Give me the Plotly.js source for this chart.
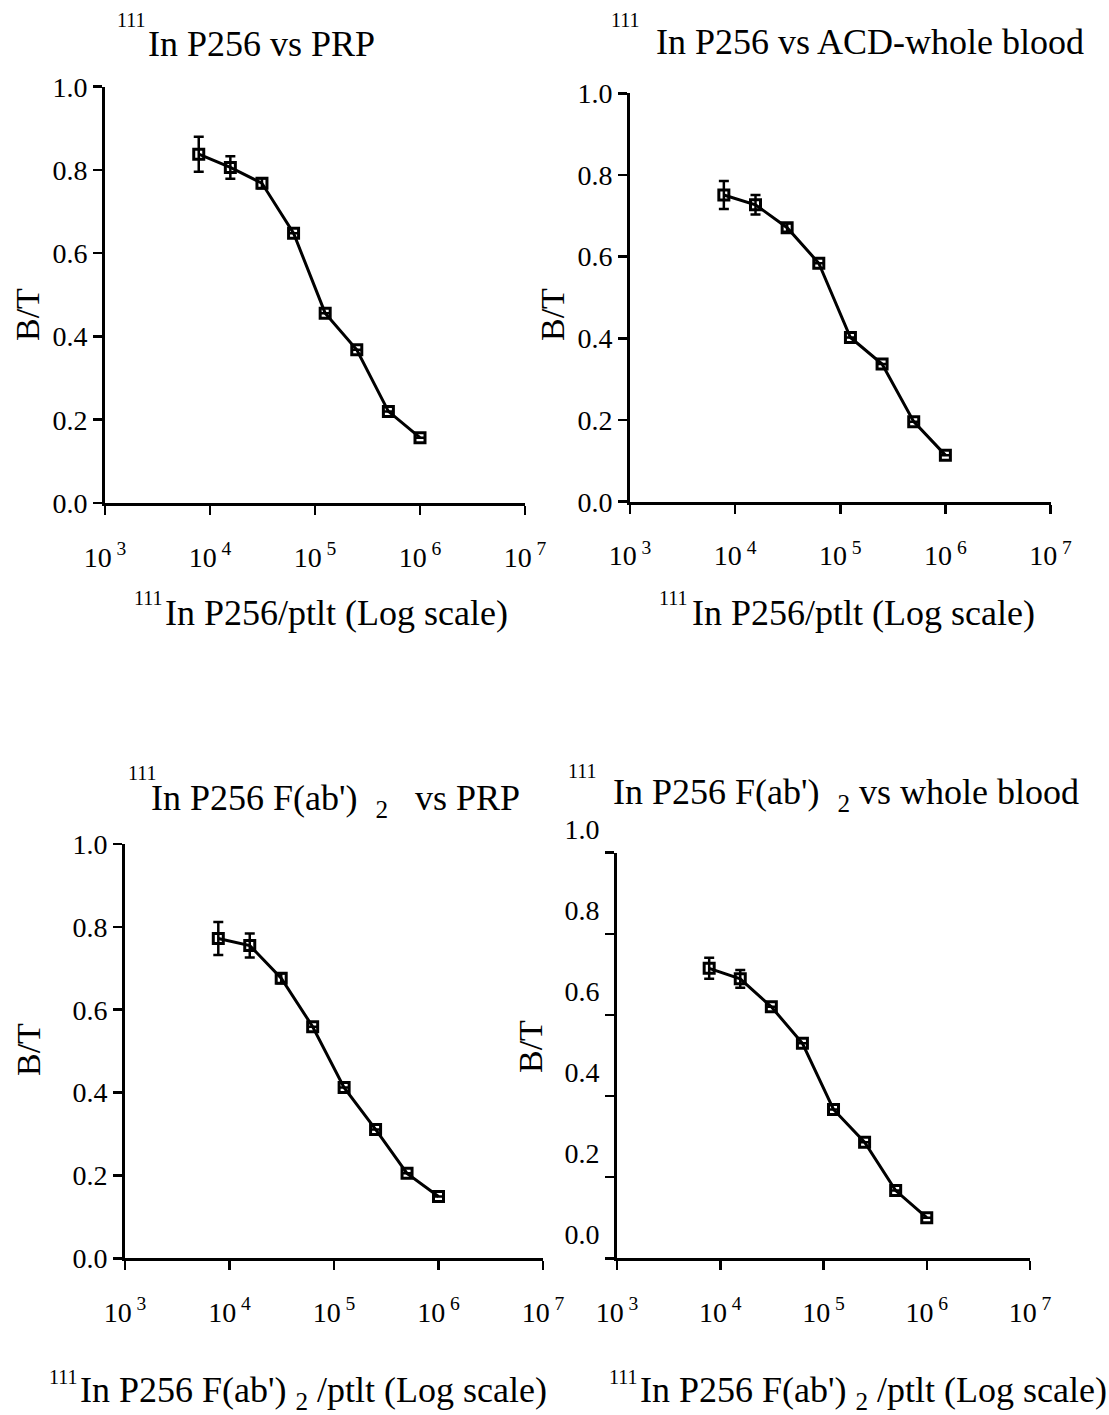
<!DOCTYPE html>
<html>
<head>
<meta charset="utf-8">
<script src="https://cdn.plot.ly/plotly-3.0.1.min.js"></script>
<style>html,body{margin:0;padding:0;background:#fff;}</style>
</head>
<body>
<div id="chart" style="width:1109px;height:1415px;"></div>
<script>
// ---- data ----
const doses = [7812.5, 15625, 31250, 62500, 125000, 250000, 500000, 1000000];
const btPRP = [0.838, 0.806, 0.768, 0.648, 0.456, 0.368, 0.220, 0.157];
const errPRP = [0.042, 0.027, 0.012, 0, 0, 0, 0, 0];
const btACD = [0.751, 0.727, 0.671, 0.584, 0.402, 0.337, 0.196, 0.114];
const errACD = [0.034, 0.024, 0.010, 0, 0, 0, 0, 0];
const btFabPRP = [0.772, 0.755, 0.676, 0.559, 0.412, 0.311, 0.205, 0.149];
const errFabPRP = [0.040, 0.029, 0.012, 0, 0, 0, 0, 0];
const btFabWB = [0.715, 0.689, 0.620, 0.530, 0.367, 0.286, 0.167, 0.100];
const errFabWB = [0.026, 0.022, 0, 0, 0, 0, 0, 0];
const xTickVals = [1e3, 1e4, 1e5, 1e6, 1e7];
const xTickText = ["10<sup>\u00a03</sup>", "10<sup>\u00a04</sup>", "10<sup>\u00a05</sup>", "10<sup>\u00a06</sup>", "10<sup>\u00a07</sup>"];
const yTickVals = [0, 0.2, 0.4, 0.6, 0.8, 1.0];
const yTickText = ["0.0", "0.2", "0.4", "0.6", "0.8", "1.0"];

// ---- layout helpers ----
const W = 1109, H = 1415;
const FONT = "Liberation Serif, Times New Roman, serif";
const dx = (a, b) => [a / W, b / W];
const dy = (top, bottom) => [1 - bottom / H, 1 - top / H];

function trace(y, err, n) {
  return {
    x: doses, y: y, type: 'scatter', mode: 'lines+markers',
    xaxis: n === 1 ? 'x' : 'x' + n, yaxis: n === 1 ? 'y' : 'y' + n,
    line: {color: '#000', width: 3},
    marker: {symbol: 'square-open', size: 10, color: '#000', line: {width: 3, color: '#000'}},
    error_y: {type: 'data', array: err, visible: true, color: '#000', thickness: 2.5, width: 5},
    cliponaxis: false, hoverinfo: 'skip'
  };
}

function xax(domain, anchor) {
  return {
    domain: domain, anchor: anchor, type: 'log', range: [3, 7],
    tickvals: xTickVals, ticktext: xTickText,
    showline: true, linecolor: '#000', linewidth: 3, mirror: false,
    ticks: 'outside', ticklen: 9, tickwidth: 2.5, tickcolor: '#000',
    showgrid: false, zeroline: false,
    ticklabelstandoff: 18,
    tickfont: {family: FONT, size: 28, color: '#000'}
  };
}
function yax(domain, anchor, shift) {
  return {
    domain: domain, anchor: anchor, range: [0, 1],
    tickvals: yTickVals, ticktext: yTickText,
    showline: true, linecolor: '#000', linewidth: 3,
    ticks: 'outside', ticklen: 9, tickwidth: 2.5, tickcolor: '#000',
    showgrid: false, zeroline: false,
    ticklabelshift: shift || 0,
    tickfont: {family: FONT, size: 28, color: '#000'}
  };
}
function ann(text, xpx, ypx, size, extra) {
  return Object.assign({
    text: text, x: xpx / W, y: 1 - ypx / H, xref: 'paper', yref: 'paper',
    xanchor: 'left', yanchor: 'middle', showarrow: false,
    font: {family: FONT, size: size, color: '#000'}
  }, extra || {});
}
const sp = '\u00a0';
const annotations = [
  // panel titles
  ann('111', 115, 20, 20), ann('In P256 vs PRP', 146, 44, 36),
  ann('111', 609, 20, 20), ann('In P256 vs ACD-whole blood', 654, 42, 36),
  ann('111', 126, 773, 20), ann('In P256 F(ab\')' + sp + sp + '<sub>2</sub>' + sp + sp + sp + 'vs PRP', 149, 800, 36),
  ann('111', 566, 771, 20), ann('In P256 F(ab\')' + sp + sp + '<sub>2</sub>' + sp + 'vs whole blood', 611, 794, 36),
  // x-axis titles
  ann('111', 132, 598, 20), ann('In P256/ptlt (Log scale)', 163, 613, 36),
  ann('111', 657, 598, 20), ann('In P256/ptlt (Log scale)', 690, 613, 36),
  ann('111', 47, 1377, 20), ann('In P256 F(ab\')' + sp + '<sub>2</sub>' + sp + '/ptlt (Log scale)', 78, 1392, 36),
  ann('111', 607, 1377, 20), ann('In P256 F(ab\')' + sp + '<sub>2</sub>' + sp + '/ptlt (Log scale)', 638, 1392, 36),
  // y-axis titles
  ann('B/T', 27, 315, 34, {textangle: -90, xanchor: 'center'}),
  ann('B/T', 552, 315, 34, {textangle: -90, xanchor: 'center'}),
  ann('B/T', 28, 1050, 34, {textangle: -90, xanchor: 'center'}),
  ann('B/T', 530, 1047, 34, {textangle: -90, xanchor: 'center'})
];

const data = [
  trace(btPRP, errPRP, 1),
  trace(btACD, errACD, 2),
  trace(btFabPRP, errFabPRP, 3),
  trace(btFabWB, errFabWB, 4)
];

const layout = {
  width: W, height: H, margin: {l: 0, r: 0, t: 0, b: 0},
  paper_bgcolor: '#fff', plot_bgcolor: '#fff', showlegend: false,
  font: {family: FONT, color: '#000'},
  xaxis: xax(dx(105, 525), 'y'), yaxis: yax(dy(86.7, 503), 'x'),
  xaxis2: xax(dx(630, 1050.5), 'y2'), yaxis2: yax(dy(93.3, 501.7), 'x2'),
  xaxis3: xax(dx(125, 543), 'y3'), yaxis3: yax(dy(844, 1258.3), 'x3'),
  xaxis4: xax(dx(617, 1030), 'y4'), yaxis4: yax(dy(852.7, 1258.3), 'x4', -24),
  annotations: annotations
};

Plotly.newPlot('chart', data, layout, {staticPlot: true, displayModeBar: false});
</script>
</body>
</html>
